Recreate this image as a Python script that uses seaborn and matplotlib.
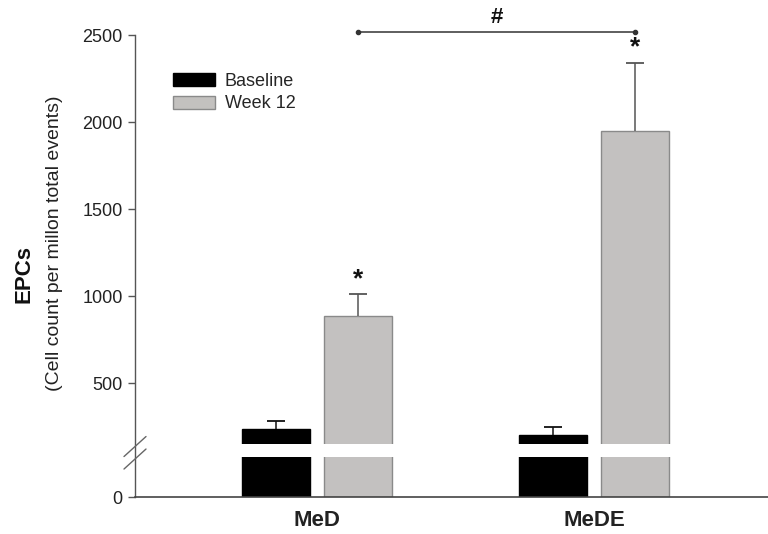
import numpy as np
import pandas as pd
import matplotlib
matplotlib.use("Agg")
import matplotlib.pyplot as plt
import seaborn as sns
from matplotlib.lines import Line2D

# ---------------- data ----------------
groups = ["MeD", "MeDE"]
timepoints = ["Baseline", "Week 12"]
baseline_mean = [236, 202]
baseline_err = [48, 44]
week12_mean = [887, 1949]
week12_err = [125, 395]
yticks = [0, 500, 1000, 1500, 2000, 2500]
sig_label = "#"
star_label = "*"

sns.set_theme(style="white")
plt.rcParams["font.family"] = ["Liberation Sans", "DejaVu Sans"]

# ---------------- broken-axis scale ----------------
LOW_TOP, HIGH_BOT = 100.0, 150.0
A_LOW, A_GAP, A_HIGH = 0.4, 0.26, 0.174


def fwd(y):
    y = np.asarray(y, dtype=float)
    g0 = LOW_TOP * A_LOW
    g1 = g0 + (HIGH_BOT - LOW_TOP) * A_GAP
    return np.where(y <= LOW_TOP, y * A_LOW,
                    np.where(y <= HIGH_BOT, g0 + (y - LOW_TOP) * A_GAP,
                             g1 + (y - HIGH_BOT) * A_HIGH))


def inv(t):
    t = np.asarray(t, dtype=float)
    g0 = LOW_TOP * A_LOW
    g1 = g0 + (HIGH_BOT - LOW_TOP) * A_GAP
    return np.where(t <= g0, t / A_LOW,
                    np.where(t <= g1, LOW_TOP + (t - g0) / A_GAP,
                             HIGH_BOT + (t - g1) / A_HIGH))


df = pd.DataFrame({
    "group": groups * 2,
    "time": [timepoints[0]] * 2 + [timepoints[1]] * 2,
    "value": baseline_mean + week12_mean,
})

W, H = 768, 534
fig = plt.figure(figsize=(W / 100, H / 100), dpi=100)
ax = fig.add_axes([135 / W, 37 / H, (W - 135) / W, 479 / H])
ax.set_yscale("function", functions=(fwd, inv))

colors = ["#000000", "#c3c1bf"]
edges = ["#000000", "#8a8a8a"]
sns.barplot(data=df, x="group", y="value", hue="time", order=groups,
            hue_order=timepoints, palette=colors, width=0.59, gap=0.17,
            errorbar=None, legend=False, ax=ax, zorder=1)

ax.set_ylim(0, 2600)
ax.set_xlim(-0.657, 1.628)

errs = [baseline_err, week12_err]
means = [baseline_mean, week12_mean]
err_cols = ["#111111", "#555555"]
bar_containers = list(ax.containers)
centers = []
for k, cont in enumerate(bar_containers):
    xs = []
    for bar in cont.patches:
        bar.set_edgecolor(edges[k])
        bar.set_linewidth(1.0)
        xs.append(bar.get_x() + bar.get_width() / 2)
    centers.append(xs)
for k in range(len(centers)):
    m = np.asarray(means[k], float)
    e = np.asarray(errs[k], float)
    ax.errorbar(centers[k], m, yerr=[np.zeros(len(m)), e], fmt="none",
                ecolor=err_cols[k], elinewidth=1.1, capsize=0, zorder=3)
    ax.plot(centers[k], m + e, ls="none", marker="_", ms=13, mew=1.3,
            color=err_cols[k], zorder=3)

# white break band
ax.axhspan(LOW_TOP, HIGH_BOT, color="white", lw=0, zorder=2.2)

# stars over week 12 bars
for x, m, e in zip(centers[1], week12_mean, week12_err):
    ax.annotate(star_label, (x, m + e), xytext=(0, 2), textcoords="offset points",
                ha="center", va="bottom", fontsize=19, fontweight="bold",
                color="#111111", zorder=4)

# significance bracket between week-12 bars
sig_y = 2520
ax.plot([centers[1][0], centers[1][1]], [sig_y, sig_y], color="#333333",
        lw=1.1, marker="o", ms=3, clip_on=False, zorder=4)
ax.annotate(sig_label, ((centers[1][0] + centers[1][1]) / 2, sig_y),
            xytext=(0, 3), textcoords="offset points", ha="center",
            va="bottom", fontsize=16, fontweight="bold", color="#111111",
            annotation_clip=False)

# axes styling
for s in ["top", "right"]:
    ax.spines[s].set_visible(False)
ax.spines["left"].set_color("#555555")
ax.spines["bottom"].set_color("#444444")
ax.spines["left"].set_linewidth(1.0)
ax.spines["bottom"].set_linewidth(1.2)
ax.spines["left"].set_zorder(2.5)
ax.spines["left"].set_bounds(yticks[0], yticks[-1])

ax.set_yticks(yticks)
ax.set_yticklabels([str(v) for v in yticks])
ax.tick_params(axis="y", direction="out", length=5, width=1, color="#555555",
               pad=4, labelsize=13, labelcolor="#222222", left=True)
ax.tick_params(axis="x", length=0, pad=9, labelsize=16, labelcolor="#222222")
for lab in ax.get_xticklabels():
    lab.set_fontweight("bold")
ax.set_xlabel("")
ax.set_ylabel("")

# break marks on the y axis
fig.canvas.draw()
x0, yb = ax.transData.transform((ax.get_xlim()[0], (LOW_TOP + HIGH_BOT) / 2))
for dy in (4.0, -8.5):
    ax.add_line(Line2D([x0 - 11, x0 + 11], [yb + dy - 10, yb + dy + 10],
                       transform=None, color="#666666", lw=1.0,
                       clip_on=False, zorder=5))

# legend
handles = [plt.Rectangle((0, 0), 1, 1, facecolor=colors[i], edgecolor=edges[i], lw=1)
           for i in range(2)]
ax.legend(handles, timepoints, loc="upper left",
          bbox_to_anchor=(173 / W, 1 - 73 / H), bbox_transform=fig.transFigure,
          frameon=False, borderpad=0, borderaxespad=0, fontsize=13,
          handlelength=2.33, handleheight=0.72, handletextpad=0.55,
          labelspacing=0.3)

fig.text(24 / W, 1 - 274 / H, "EPCs", rotation=90, ha="center", va="center",
         fontsize=16, fontweight="bold", color="#111111")
fig.text(55 / W, 1 - 243 / H, "(Cell count per millon total events)",
         rotation=90, ha="center", va="center", fontsize=14, color="#222222")

fig.savefig("out.png", dpi=100)
